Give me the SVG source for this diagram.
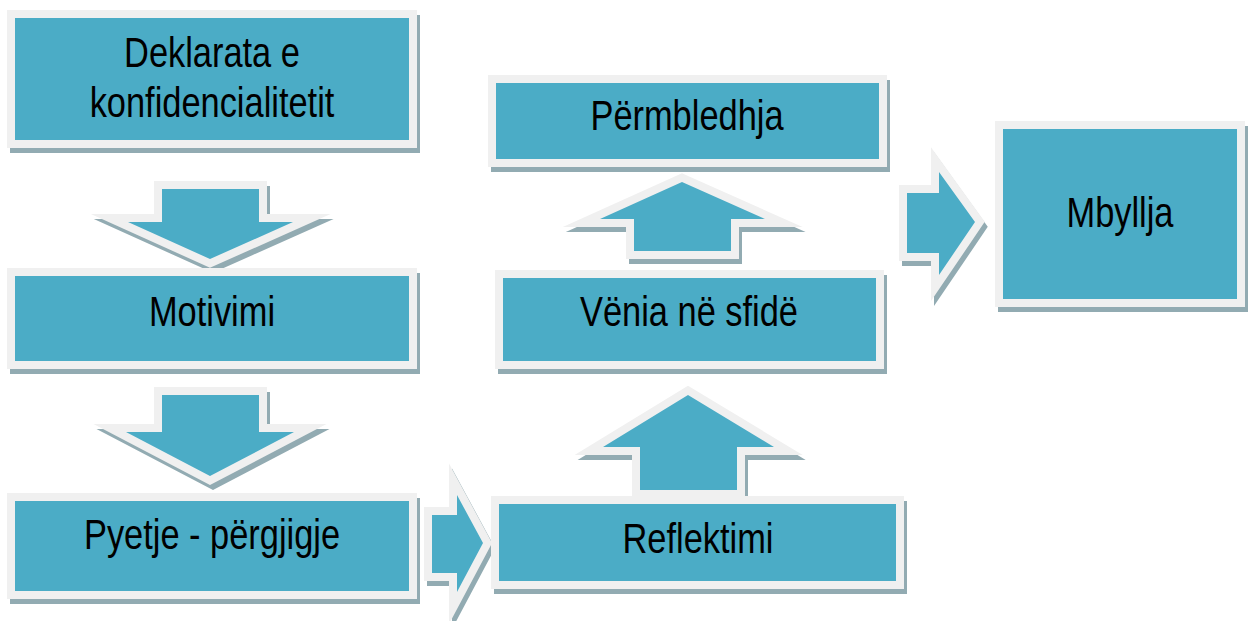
<svg xmlns="http://www.w3.org/2000/svg" width="1250" height="621" viewBox="0 0 1250 621">
  <style>
    .sh { fill: #92abb2; stroke: #92abb2; stroke-width: 16; stroke-linejoin: miter; stroke-miterlimit: 10; }
    .mn { fill: #4bacc6; stroke: #f0f0f0; stroke-width: 16; stroke-linejoin: miter; stroke-miterlimit: 10; paint-order: stroke fill; }
    .lb { font-family: "Liberation Sans", Arial, sans-serif; font-size: 43px; fill: #000; text-anchor: middle; }
  </style>
  <rect width="1250" height="621" fill="#ffffff"/>

  <g id="connectors">
    <g id="arrow-down-1">
      <polygon class="sh" transform="translate(3,5)" points="162,189 259,189 259,222 293,222 210,259 128,222 162,222"/>
      <polygon class="mn" points="162,189 259,189 259,222 293,222 210,259 128,222 162,222"/>
    </g>
    <g id="arrow-down-2">
      <polygon class="sh" transform="translate(3,5)" points="162,395 259,395 259,432 294,432 210,476 126,432 162,432"/>
      <polygon class="mn" points="162,395 259,395 259,432 294,432 210,476 126,432 162,432"/>
    </g>
    <g id="arrow-right-1">
      <polygon class="sh" transform="translate(3,5)" points="432,515 457,515 457,495 483,543 457,592 457,573 432,573"/>
      <polygon class="mn" points="432,515 457,515 457,495 483,543 457,592 457,573 432,573"/>
    </g>
    <g id="arrow-up-2">
      <polygon class="sh" transform="translate(3,5)" points="688,395 774,447 737,447 737,490 640,490 640,447 603,447"/>
      <polygon class="mn" points="688,395 774,447 737,447 737,490 640,490 640,447 603,447"/>
    </g>
    <g id="arrow-up-1">
      <polygon class="sh" transform="translate(3,5)" points="682,182 765,219 731,219 731,251 634,251 634,219 600,219"/>
      <polygon class="mn" points="682,182 765,219 731,219 731,251 634,251 634,219 600,219"/>
    </g>
    <g id="arrow-right-2">
      <polygon class="sh" transform="translate(3,5)" points="907,193 939,193 939,172 975,222 939,275 939,253 907,253"/>
      <polygon class="mn" points="907,193 939,193 939,172 975,222 939,275 939,253 907,253"/>
    </g>
  </g>

  <g id="node-deklarata">
    <rect class="sh" transform="translate(3,5)" x="15" y="18" width="394" height="122"/>
    <rect class="mn" x="15" y="18" width="394" height="122"/>
    <text class="lb" transform="translate(212,67) scale(0.8,1)">Deklarata e</text>
    <text class="lb" transform="translate(212,117) scale(0.8,1)">konfidencialitetit</text>
  </g>

  <g id="node-motivimi">
    <rect class="sh" transform="translate(3,5)" x="15" y="276" width="394" height="85"/>
    <rect class="mn" x="15" y="276" width="394" height="85"/>
    <text class="lb" transform="translate(212,326) scale(0.8,1)">Motivimi</text>
  </g>

  <g id="node-pyetje">
    <rect class="sh" transform="translate(3,5)" x="15" y="501" width="394" height="90"/>
    <rect class="mn" x="15" y="501" width="394" height="90"/>
    <text class="lb" transform="translate(212,549) scale(0.8,1)">Pyetje - përgjigje</text>
  </g>

  <g id="node-reflektimi">
    <rect class="sh" transform="translate(3,5)" x="499" y="504" width="397" height="77"/>
    <rect class="mn" x="499" y="504" width="397" height="77"/>
    <text class="lb" transform="translate(698,553) scale(0.8,1)">Reflektimi</text>
  </g>

  <g id="node-venia">
    <rect class="sh" transform="translate(3,5)" x="503" y="278" width="373" height="83"/>
    <rect class="mn" x="503" y="278" width="373" height="83"/>
    <text class="lb" transform="translate(689,326) scale(0.8,1)">Vënia në sfidë</text>
  </g>

  <g id="node-permbledhja">
    <rect class="sh" transform="translate(3,5)" x="496" y="83" width="383" height="76"/>
    <rect class="mn" x="496" y="83" width="383" height="76"/>
    <text class="lb" transform="translate(687,130) scale(0.8,1)">Përmbledhja</text>
  </g>

  <g id="node-mbyllja">
    <rect class="sh" transform="translate(3,5)" x="1003" y="129" width="234" height="170"/>
    <rect class="mn" x="1003" y="129" width="234" height="170"/>
    <text class="lb" transform="translate(1120,227) scale(0.8,1)">Mbyllja</text>
  </g>
</svg>
